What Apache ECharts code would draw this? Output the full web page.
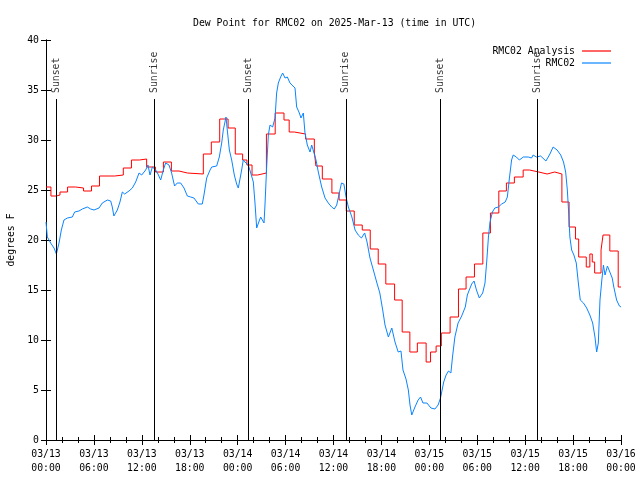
<!DOCTYPE html>
<html>
<head>
<meta charset="utf-8">
<script src="https://cdn.jsdelivr.net/npm/echarts@6/dist/echarts.min.js"></script>
<style>html,body{margin:0;padding:0;background:#fff}#c{width:640px;height:480px}</style>
</head>
<body>
<div id="c"></div>
<script>
// hours since 03/13 00:00 UTC
var xTickLabels = ['03/13\n00:00','03/13\n06:00','03/13\n12:00','03/13\n18:00','03/14\n00:00','03/14\n06:00','03/14\n12:00','03/14\n18:00','03/15\n00:00','03/15\n06:00','03/15\n12:00','03/15\n18:00','03/16\n00:00'];
var sunTimes = [1.3, 13.55, 25.3, 37.55, 49.4, 61.5];
var sunLabels = ['Sunset','Sunrise','Sunset','Sunrise','Sunset','Sunrise'];

var redTime = [0,0.62,1.3,1.75,2.7,3.7,4.7,5.7,6.7,8.6,9.68,10.7,11.7,12.6,13.7,14.7,15.7,16.65,17.7,19.7,20.7,21.75,22.8,23.7,24.62,25.16,25.8,26.5,27.6,28.7,29.8,30.45,31.1,32.5,33.6,33.8,34.6,35.8,36.7,37.6,38.6,39.6,40.6,41.6,42.55,43.65,44.6,45.56,46.5,47.6,48.15,48.85,49.5,50.6,51.65,52.6,53.65,54.7,55.65,56.7,57.65,58.65,59.75,60.55,61.7,62.75,63.7,64.6,65.5,66.3,66.7,67.65,68.1,68.4,68.7,69.5,69.75,70.6,71.65,72];
var redDew  = [25.3,24.4,24.5,24.8,25.3,25.2,24.9,25.4,26.4,26.5,27.2,28.0,28.1,27.3,26.8,27.8,26.9,26.7,26.6,28.6,29.8,32.1,31.2,28.6,28.0,27.5,26.5,26.7,30.6,32.7,32.0,30.8,30.6,30.1,28.8,27.4,26.1,24.7,24.0,22.9,21.5,21.0,19.1,17.6,15.6,14.0,10.8,8.8,9.7,7.8,8.8,9.4,10.7,12.3,15.1,16.3,17.6,20.7,22.7,24.9,25.7,26.3,27.0,26.8,26.6,26.8,26.6,23.8,21.3,20.1,18.3,17.3,18.6,17.8,16.7,19.0,20.5,18.9,15.3,15.3];

var blueTime = [0,0.17,0.58,1.0,1.3,1.63,1.92,2.25,2.67,3.3,3.59,4.13,4.55,5.18,5.59,6.01,6.64,7.05,7.68,8.1,8.3,8.5,8.93,9.26,9.56,9.85,10.39,10.81,11.23,11.65,11.98,12.48,12.77,13.02,13.32,13.73,14.02,14.36,14.69,14.98,15.4,15.73,16.1,16.44,16.86,17.28,17.7,18.11,18.53,19.07,19.57,19.78,20.12,20.54,20.75,20.95,21.37,21.7,22.0,22.2,22.54,22.7,22.96,23.25,23.58,23.87,24.08,24.3,24.5,24.7,25.04,25.33,25.6,25.96,26.17,26.38,26.6,26.88,27.13,27.3,27.42,27.63,27.84,28.05,28.38,28.68,28.88,29.09,29.38,29.63,29.93,30.22,30.55,30.8,31.18,31.39,31.72,31.93,32.22,32.43,32.72,33.06,33.27,33.56,33.81,34.1,34.52,34.94,35.35,35.77,36.1,36.4,36.73,37.0,37.3,37.57,37.86,38.3,38.7,39.1,39.5,39.9,40.2,40.57,40.99,41.4,41.8,42.16,42.45,42.87,43.3,43.7,44.1,44.45,44.7,45.08,45.37,45.58,45.8,46.2,46.6,46.9,47.2,47.7,48.2,48.7,49.1,49.4,49.8,50.1,50.4,50.7,50.9,51.2,51.6,52.05,52.5,52.76,53.0,53.3,53.6,53.9,54.26,54.68,54.97,55.2,55.4,55.6,55.9,56.2,56.64,57.06,57.5,57.77,58.0,58.3,58.5,58.9,59.27,59.77,60.4,60.8,61.0,61.4,61.94,62.6,63.1,63.5,64.0,64.45,64.8,65.07,65.28,65.45,65.6,65.82,66.1,66.4,66.66,66.9,67.3,67.7,68.1,68.45,68.74,68.95,69.16,69.37,69.6,69.8,70.0,70.3,70.6,70.9,71.1,71.45,71.8,72.0];
var blueDew  = [21.8,20.3,19.7,19.2,18.6,19.7,21.0,22.0,22.2,22.3,22.8,22.9,23.1,23.3,23.1,23.0,23.2,23.7,24.0,23.9,23.3,22.4,23.0,23.8,24.8,24.6,24.9,25.2,25.8,26.7,26.5,27.0,27.5,26.5,27.3,27.0,26.6,26.0,27.0,27.7,27.5,26.7,25.4,25.7,25.7,25.2,24.4,24.3,24.2,23.6,23.6,24.5,26.2,27.0,27.3,27.1,27.4,28.3,29.7,31.0,32.3,31.0,29.0,28.0,26.5,25.6,25.2,25.2,27.0,28.0,27.7,27.5,26.8,25.8,23.7,21.2,21.7,22.3,22.3,21.7,23.5,27.3,30.5,31.5,31.3,32.2,34.7,35.7,36.3,36.7,36.2,36.3,35.7,35.8,35.2,33.3,32.7,32.2,32.7,30.7,29.5,28.8,29.5,28.7,28.0,26.8,25.3,24.2,23.7,23.3,23.1,23.5,24.7,25.7,25.6,24.3,23.3,22.3,21.0,20.5,20.2,20.7,19.8,18.2,17.0,15.8,14.7,13.0,11.5,10.3,11.2,9.8,8.8,8.9,7.0,6.1,5.0,3.5,2.5,3.3,4.0,4.3,3.7,3.7,3.2,3.1,3.5,4.2,5.8,6.5,6.9,6.7,8.3,10.3,11.7,12.4,13.3,14.5,15.0,15.6,15.9,15.0,14.2,14.7,15.7,18.0,20.3,21.8,22.8,23.2,23.3,23.6,23.8,24.3,26.0,28.0,28.5,28.3,28.0,28.3,28.3,28.2,28.5,28.3,28.4,27.9,28.6,29.3,29.0,28.5,27.8,26.8,25.0,22.7,20.3,19.0,18.5,17.7,15.7,14.0,13.7,13.2,12.5,11.7,10.3,8.8,9.7,14.0,16.0,17.5,16.5,17.4,16.8,16.2,15.3,14.0,13.4,13.3];

var FONT = 'DejaVu Sans Mono';
var FS = 9.8;
var sunLineTop = 34.1;
var sunLabelBase = 34.7;

function pairs(a, b) { return a.map(function (t, i) { return [t, b[i]]; }); }

var chart = echarts.init(document.getElementById('c'), null, {renderer: 'canvas'});
var axisBlack = {show: true, lineStyle: {color: '#000', width: 1}};
var legendCommon = {
  orient: 'horizontal', align: 'right', right: 29, itemWidth: 29, itemHeight: 1.2,
  icon: 'rect',
  textStyle: {fontFamily: FONT, fontSize: FS, color: '#000', padding: [0, 2, 0, 0]},
  padding: 0, itemGap: 0, selectedMode: false
};
chart.setOption({
  animation: false,
  backgroundColor: '#fff',
  title: {
    text: 'Dew Point for RMC02 on 2025-Mar-13 (time in UTC)',
    left: 188, top: 13,
    textStyle: {fontFamily: FONT, fontSize: FS, fontWeight: 'normal', color: '#000'}
  },
  legend: [
    Object.assign({}, legendCommon, {data: ['RMC02 Analysis'], top: 46}),
    Object.assign({}, legendCommon, {data: ['RMC02'], top: 58})
  ],
  grid: {left: 46, right: 19, top: 40, bottom: 40, containLabel: false, outerBoundsMode: 'none'},
  xAxis: [{
    type: 'value', min: 0, max: 72, interval: 6, position: 'bottom',
    axisLine: axisBlack,
    axisTick: {show: true, inside: true, length: 5, lineStyle: {color: '#000'}},
    minorTick: {show: true, splitNumber: 3, length: 3, lineStyle: {color: '#000'}},
    splitLine: {show: false},
    axisLabel: {
      margin: 7, fontFamily: FONT, fontSize: FS, color: '#000', lineHeight: 14,
      formatter: function (v) { return xTickLabels[Math.round(v / 6)]; }
    }
  }, {
    type: 'value', min: 0, max: 72, interval: 6, position: 'top',
    axisLine: axisBlack,
    axisTick: {show: true, inside: true, length: 5, lineStyle: {color: '#000'}},
    minorTick: {show: true, splitNumber: 3, length: 3, lineStyle: {color: '#000'}},
    splitLine: {show: false}, axisLabel: {show: false}
  }],
  yAxis: [{
    type: 'value', min: 0, max: 40, interval: 5, position: 'left',
    name: 'degrees F', nameLocation: 'middle', nameGap: 30, nameRotate: 90,
    nameTextStyle: {fontFamily: FONT, fontSize: FS, color: '#000'},
    axisLine: axisBlack,
    axisTick: {show: true, inside: true, length: 5, lineStyle: {color: '#000'}},
    splitLine: {show: false},
    axisLabel: {margin: 7, fontFamily: FONT, fontSize: FS, color: '#000'}
  }, {
    type: 'value', min: 0, max: 40, interval: 5, position: 'right',
    axisLine: axisBlack,
    axisTick: {show: true, inside: true, length: 5, lineStyle: {color: '#000'}},
    splitLine: {show: false}, axisLabel: {show: false}
  }],
  series: [{
    name: 'sun', type: 'scatter', symbolSize: 0, silent: true,
    data: sunTimes.map(function (t, i) { return {value: [t, sunLabelBase], name: sunLabels[i]}; }),
    label: {
      show: true, position: 'inside', rotate: 90, align: 'left', verticalAlign: 'middle',
      fontFamily: FONT, fontSize: FS, color: '#000', textBorderWidth: 0, textBorderColor: 'transparent',
      formatter: function (p) { return p.name; }
    },
    markLine: {
      silent: true, symbol: ['none', 'none'], animation: false,
      label: {show: false},
      lineStyle: {color: '#000', width: 1, type: 'solid'},
      data: sunTimes.map(function (t) { return [{coord: [t, 0]}, {coord: [t, sunLineTop]}]; })
    }
  }, {
    name: 'RMC02 Analysis', type: 'line', step: 'end', symbol: 'none',
    data: pairs(redTime, redDew),
    lineStyle: {color: '#ff0000', width: 1}, itemStyle: {color: '#ff0000'}
  }, {
    name: 'RMC02', type: 'line', symbol: 'none',
    data: pairs(blueTime, blueDew),
    lineStyle: {color: '#0a84ff', width: 1}, itemStyle: {color: '#0a84ff'}
  }]
});
</script>
</body>
</html>
